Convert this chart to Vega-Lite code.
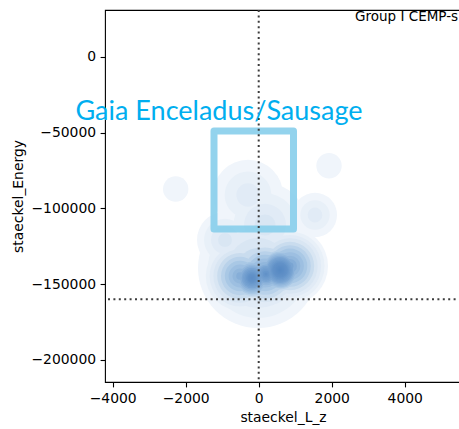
{
  "$schema": "https://vega.github.io/schema/vega-lite/v6.json",
  "width": 356,
  "height": 372,
  "autosize": {"type": "none"},
  "padding": {"left": 105, "top": 10, "right": 0, "bottom": 47},
  "background": "white",
  "config": {
    "font": "DejaVu Sans",
    "view": {"stroke": "#000", "strokeWidth": 1.1},
    "axis": {
      "domain": false,
      "grid": false,
      "tickColor": "#000",
      "tickWidth": 1.1,
      "tickSize": 4.9,
      "labelFont": "DejaVu Sans",
      "labelFontSize": 13.9,
      "labelColor": "#000",
      "labelPadding": 4.5,
      "labelFlush": false,
      "labelOverlap": false,
      "titleFont": "DejaVu Sans",
      "titleFontSize": 13.9,
      "titleFontWeight": "normal",
      "titleColor": "#000",
      "titlePadding": 5
    }
  },
  "layer": [
    {
      "description": "Filled density levels, drawn from the outermost (palest) level inward",
      "data": {
        "values": [
          {"level": 0, "L_z": -293, "Energy": -91149, "radius": 959},
          {"level": 0, "L_z": 1542, "Energy": -104359, "radius": 603},
          {"level": 0, "L_z": -19, "Energy": -139366, "radius": 1644},
          {"level": 0, "L_z": 173, "Energy": -110964, "radius": 1151},
          {"level": 0, "L_z": -923, "Energy": -120872, "radius": 767},
          {"level": 0, "L_z": -2274, "Energy": -87186, "radius": 348},
          {"level": 0, "L_z": 1926, "Energy": -71796, "radius": 348},
          {"level": 0, "L_z": -512, "Energy": -144650, "radius": 1041},
          {"level": 0, "L_z": 173, "Energy": -142668, "radius": 1096},
          {"level": 0, "L_z": 858, "Energy": -138045, "radius": 1041},
          {"level": 0, "L_z": 584, "Energy": -140687, "radius": 712},
          {"level": 0, "L_z": -184, "Energy": -145971, "radius": 685},
          {"level": 0, "L_z": 200, "Energy": -143329, "radius": 658},

          {"level": 1, "L_z": -293, "Energy": -91149, "radius": 639},
          {"level": 1, "L_z": 1542, "Energy": -104359, "radius": 402},
          {"level": 1, "L_z": -19, "Energy": -139366, "radius": 1370},
          {"level": 1, "L_z": 173, "Energy": -110964, "radius": 863},
          {"level": 1, "L_z": -923, "Energy": -120872, "radius": 575},
          {"level": 1, "L_z": -512, "Energy": -144650, "radius": 937},
          {"level": 1, "L_z": 173, "Energy": -142668, "radius": 996},
          {"level": 1, "L_z": 858, "Energy": -138045, "radius": 946},
          {"level": 1, "L_z": 584, "Energy": -140687, "radius": 676},
          {"level": 1, "L_z": -184, "Energy": -145971, "radius": 645},
          {"level": 1, "L_z": 200, "Energy": -143329, "radius": 614},

          {"level": 2, "L_z": -293, "Energy": -91149, "radius": 320},
          {"level": 2, "L_z": 1542, "Energy": -104359, "radius": 201},
          {"level": 2, "L_z": -19, "Energy": -139366, "radius": 1096},
          {"level": 2, "L_z": 173, "Energy": -110964, "radius": 575},
          {"level": 2, "L_z": -923, "Energy": -120872, "radius": 384},
          {"level": 2, "L_z": -512, "Energy": -144650, "radius": 833},
          {"level": 2, "L_z": 173, "Energy": -142668, "radius": 897},
          {"level": 2, "L_z": 858, "Energy": -138045, "radius": 852},
          {"level": 2, "L_z": 584, "Energy": -140687, "radius": 641},
          {"level": 2, "L_z": -184, "Energy": -145971, "radius": 604},
          {"level": 2, "L_z": 200, "Energy": -143329, "radius": 570},

          {"level": 3, "L_z": -19, "Energy": -139366, "radius": 822},
          {"level": 3, "L_z": 173, "Energy": -110964, "radius": 288},
          {"level": 3, "L_z": -923, "Energy": -120872, "radius": 192},
          {"level": 3, "L_z": -512, "Energy": -144650, "radius": 729},
          {"level": 3, "L_z": 173, "Energy": -142668, "radius": 797},
          {"level": 3, "L_z": 858, "Energy": -138045, "radius": 757},
          {"level": 3, "L_z": 584, "Energy": -140687, "radius": 605},
          {"level": 3, "L_z": -184, "Energy": -145971, "radius": 564},
          {"level": 3, "L_z": 200, "Energy": -143329, "radius": 526},

          {"level": 4, "L_z": -19, "Energy": -139366, "radius": 548},
          {"level": 4, "L_z": -512, "Energy": -144650, "radius": 625},
          {"level": 4, "L_z": 173, "Energy": -142668, "radius": 697},
          {"level": 4, "L_z": 858, "Energy": -138045, "radius": 662},
          {"level": 4, "L_z": 584, "Energy": -140687, "radius": 570},
          {"level": 4, "L_z": -184, "Energy": -145971, "radius": 524},
          {"level": 4, "L_z": 200, "Energy": -143329, "radius": 482},

          {"level": 5, "L_z": -19, "Energy": -139366, "radius": 274},
          {"level": 5, "L_z": -512, "Energy": -144650, "radius": 521},
          {"level": 5, "L_z": 173, "Energy": -142668, "radius": 598},
          {"level": 5, "L_z": 858, "Energy": -138045, "radius": 568},
          {"level": 5, "L_z": 584, "Energy": -140687, "radius": 534},
          {"level": 5, "L_z": -184, "Energy": -145971, "radius": 483},
          {"level": 5, "L_z": 200, "Energy": -143329, "radius": 439},

          {"level": 6, "L_z": -512, "Energy": -144650, "radius": 416},
          {"level": 6, "L_z": 173, "Energy": -142668, "radius": 498},
          {"level": 6, "L_z": 858, "Energy": -138045, "radius": 473},
          {"level": 6, "L_z": 584, "Energy": -140687, "radius": 498},
          {"level": 6, "L_z": -184, "Energy": -145971, "radius": 443},
          {"level": 6, "L_z": 200, "Energy": -143329, "radius": 395},

          {"level": 7, "L_z": -512, "Energy": -144650, "radius": 312},
          {"level": 7, "L_z": 173, "Energy": -142668, "radius": 399},
          {"level": 7, "L_z": 858, "Energy": -138045, "radius": 379},
          {"level": 7, "L_z": 584, "Energy": -140687, "radius": 463},
          {"level": 7, "L_z": -184, "Energy": -145971, "radius": 403},
          {"level": 7, "L_z": 200, "Energy": -143329, "radius": 351},

          {"level": 8, "L_z": -512, "Energy": -144650, "radius": 208},
          {"level": 8, "L_z": 173, "Energy": -142668, "radius": 299},
          {"level": 8, "L_z": 858, "Energy": -138045, "radius": 284},
          {"level": 8, "L_z": 584, "Energy": -140687, "radius": 427},
          {"level": 8, "L_z": -184, "Energy": -145971, "radius": 363},
          {"level": 8, "L_z": 200, "Energy": -143329, "radius": 307},

          {"level": 9, "L_z": -512, "Energy": -144650, "radius": 104},
          {"level": 9, "L_z": 173, "Energy": -142668, "radius": 199},
          {"level": 9, "L_z": 858, "Energy": -138045, "radius": 189},
          {"level": 9, "L_z": 584, "Energy": -140687, "radius": 392},
          {"level": 9, "L_z": -184, "Energy": -145971, "radius": 322},
          {"level": 9, "L_z": 200, "Energy": -143329, "radius": 263},

          {"level": 10, "L_z": 173, "Energy": -142668, "radius": 100},
          {"level": 10, "L_z": 858, "Energy": -138045, "radius": 95},
          {"level": 10, "L_z": 584, "Energy": -140687, "radius": 356},
          {"level": 10, "L_z": -184, "Energy": -145971, "radius": 282},
          {"level": 10, "L_z": 200, "Energy": -143329, "radius": 219},

          {"level": 11, "L_z": 584, "Energy": -140687, "radius": 320},
          {"level": 11, "L_z": -184, "Energy": -145971, "radius": 242},
          {"level": 11, "L_z": 200, "Energy": -143329, "radius": 175},

          {"level": 12, "L_z": 584, "Energy": -140687, "radius": 285},
          {"level": 12, "L_z": -184, "Energy": -145971, "radius": 201},
          {"level": 12, "L_z": 200, "Energy": -143329, "radius": 132},

          {"level": 13, "L_z": 584, "Energy": -140687, "radius": 249},
          {"level": 13, "L_z": -184, "Energy": -145971, "radius": 161},
          {"level": 13, "L_z": 200, "Energy": -143329, "radius": 88},

          {"level": 14, "L_z": 584, "Energy": -140687, "radius": 214},
          {"level": 14, "L_z": -184, "Energy": -145971, "radius": 121},
          {"level": 14, "L_z": 200, "Energy": -143329, "radius": 44},

          {"level": 15, "L_z": 584, "Energy": -140687, "radius": 178},
          {"level": 15, "L_z": -184, "Energy": -145971, "radius": 81},

          {"level": 16, "L_z": 584, "Energy": -140687, "radius": 142},
          {"level": 16, "L_z": -184, "Energy": -145971, "radius": 40},

          {"level": 17, "L_z": 584, "Energy": -140687, "radius": 107},
          {"level": 18, "L_z": 584, "Energy": -140687, "radius": 71},
          {"level": 19, "L_z": 584, "Energy": -140687, "radius": 36}
        ]
      },
      "mark": {"type": "point", "shape": "circle", "filled": true, "opacity": 1, "strokeWidth": 0},
      "encoding": {
        "x": {
          "field": "L_z",
          "type": "quantitative",
          "scale": {"domain": [-4211, 5542], "nice": false, "zero": false},
          "axis": {"title": "staeckel_L_z", "values": [-4000, -2000, 0, 2000, 4000], "format": "d"}
        },
        "y": {
          "field": "Energy",
          "type": "quantitative",
          "scale": {"domain": [-214660, 31040], "nice": false, "zero": false},
          "axis": {"title": "staeckel_Energy", "values": [-200000, -150000, -100000, -50000, 0], "format": "d"}
        },
        "size": {
          "field": "radius",
          "type": "quantitative",
          "scale": {"type": "pow", "exponent": 2, "domain": [0, 1000], "range": [0, 5329]},
          "legend": null
        },
        "color": {
          "field": "level",
          "type": "quantitative",
          "scale": {
            "domain": [0, 3, 6, 10, 14, 19],
            "range": ["#f0f5fb", "#d9e6f3", "#a9c8e5", "#7aa5d3", "#6292c8", "#5789c3"],
            "interpolate": "rgb"
          },
          "legend": null
        }
      }
    },
    {
      "description": "Selection box for the Gaia Enceladus/Sausage region",
      "data": {"values": [{"L_z": -1225, "L_z_end": 953, "Energy": -113600, "Energy_end": -48900}]},
      "mark": {"type": "rect", "fill": "transparent", "stroke": "#87ceeb", "strokeWidth": 7, "strokeJoin": "round", "strokeOpacity": 0.9},
      "encoding": {
        "x": {"field": "L_z", "type": "quantitative", "title": "staeckel_L_z"},
        "x2": {"field": "L_z_end"},
        "y": {"field": "Energy", "type": "quantitative", "title": "staeckel_Energy"},
        "y2": {"field": "Energy_end"}
      }
    },
    {
      "data": {"values": [{"L_z": 0}]},
      "mark": {"type": "rule", "color": "#3c3c3c", "strokeWidth": 2, "strokeDash": [2, 3.4]},
      "encoding": {"x": {"field": "L_z", "type": "quantitative", "title": "staeckel_L_z"}}
    },
    {
      "data": {"values": [{"Energy": -160000}]},
      "mark": {"type": "rule", "color": "#3c3c3c", "strokeWidth": 2, "strokeDash": [2, 3.4]},
      "encoding": {"y": {"field": "Energy", "type": "quantitative", "title": "staeckel_Energy"}}
    },
    {
      "data": {"values": [{"L_z": -1088, "Energy": -41600, "label": "Gaia Enceladus/Sausage"}]},
      "mark": {"type": "text", "align": "center", "baseline": "alphabetic", "font": "Lato", "fontSize": 27, "color": "#00aeef"},
      "encoding": {
        "x": {"field": "L_z", "type": "quantitative", "title": "staeckel_L_z"},
        "y": {"field": "Energy", "type": "quantitative", "title": "staeckel_Energy"},
        "text": {"field": "label"}
      }
    },
    {
      "data": {"values": [{"L_z": 2640, "Energy": 24100, "label": "Group I CEMP-s"}]},
      "mark": {"type": "text", "align": "left", "baseline": "alphabetic", "font": "DejaVu Sans", "fontSize": 13.5, "color": "#000"},
      "encoding": {
        "x": {"field": "L_z", "type": "quantitative", "title": "staeckel_L_z"},
        "y": {"field": "Energy", "type": "quantitative", "title": "staeckel_Energy"},
        "text": {"field": "label"}
      }
    }
  ]
}
